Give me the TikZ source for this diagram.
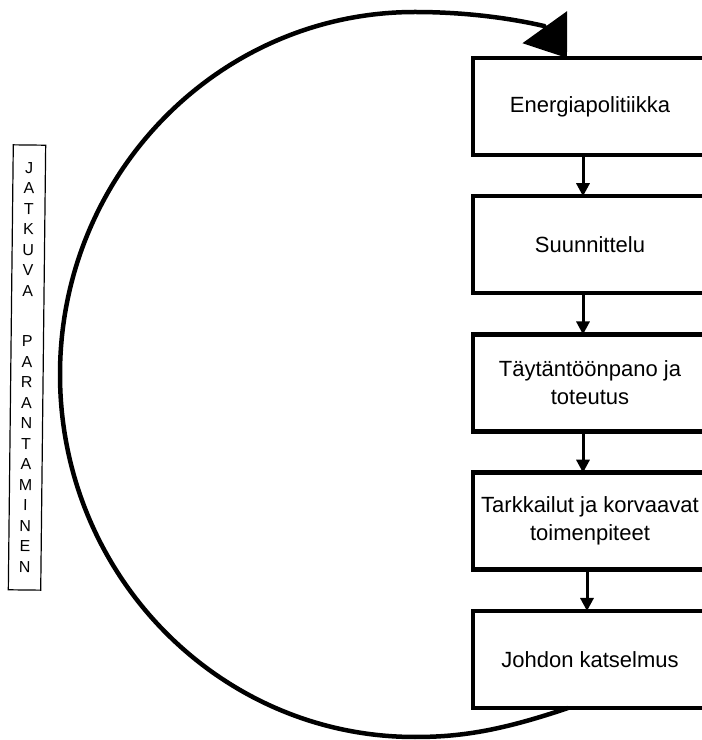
\documentclass[tikz,border=0pt]{standalone}
\usepackage{fontspec}
\setmainfont{Liberation Sans}
\usetikzlibrary{arrows.meta,positioning}

\begin{document}
\begin{tikzpicture}[
    x=1pt,y=1pt,
    node distance=41.25pt,
    stage/.style={rectangle,draw,line width=4.5pt,outer sep=0pt,
      minimum width=234pt,minimum height=97pt,align=center,
      font=\fontsize{22}{28}\selectfont},
    side/.style={rectangle,draw,line width=1.2pt,minimum width=32.4pt,
      minimum height=445pt,align=center,font=\fontsize{16}{20.5}\selectfont},
    arrow/.style={-{Triangle[length=13pt,width=13pt]},line width=3pt},
    loopline/.style={-{Triangle[length=38pt,width=54pt]},line width=4.5pt}
  ]
    \useasboundingbox (0,0) rectangle (702,740);
    \clip (0,0) rectangle (702,740);
    \node[stage] (energia) at (590,633.5) {Energiapolitiikka};
    \node[stage,below=of energia] (suunn) {Suunnittelu};
    \node[stage,below=of suunn] (toteutus) {Täytäntöönpano ja\\toteutus};
    \node[stage,below=of toteutus] (tarkkailu) {Tarkkailut ja korvaavat\\toimenpiteet};
    \node[stage,below=of tarkkailu] (johdon) {Johdon katselmus};
    \node[side,rotate=-0.64] (jatkuva) at (27,372.5)
      {J\\A\\T\\K\\U\\V\\A\\[30pt]P\\A\\R\\A\\N\\T\\A\\M\\I\\N\\E\\N};
    \draw[arrow] ([xshift=-7pt]energia.south) -- ([xshift=-7pt]suunn.north);
    \draw[arrow] ([xshift=-7pt]suunn.south) -- ([xshift=-7pt]toteutus.north);
    \draw[arrow] ([xshift=-7pt]toteutus.south) -- ([xshift=-7pt]tarkkailu.north);
    \draw[arrow] ([xshift=-3pt]tarkkailu.south) -- ([xshift=-3pt]johdon.north);
    % kierros takaisin alkuun
    \draw[loopline] ([xshift=-22pt]johdon.south)
      .. controls (500,9) and (460,3) .. (415,3)
      arc[start angle=270,end angle=90,x radius=355,y radius=362.5]
      .. controls (460,728) and (505,723) .. (544,714)
      -- ([xshift=-23pt]energia.north);
\end{tikzpicture}
\end{document}
